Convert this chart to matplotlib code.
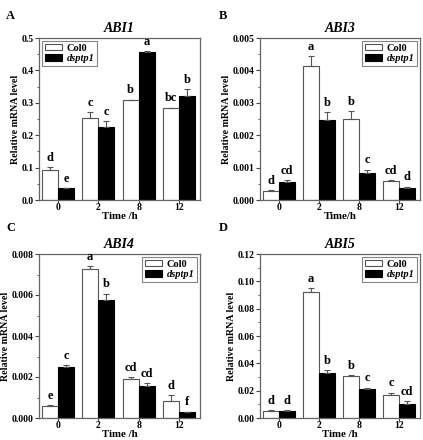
import numpy as np
import matplotlib.pyplot as plt

plt.rcParams['font.family'] = 'Liberation Serif'
plt.rcParams['font.weight'] = 'bold'

times = ['0', '2', '8', '12']

# ABI1
abi1_col = [0.093, 0.253, 0.308, 0.283]
abi1_col_err = [0.008, 0.018, 0.002, 0.002]
abi1_mut = [0.036, 0.226, 0.457, 0.321]
abi1_mut_err = [0.001, 0.018, 0.002, 0.021]
abi1_col_let = ['d', 'c', 'b', 'bc']
abi1_mut_let = ['e', 'c', 'a', 'b']

# ABI3
abi3_col = [0.00029, 0.00415, 0.00249, 0.00059]
abi3_col_err = [0.00001, 0.00030, 0.00025, 0.00002]
abi3_mut = [0.00057, 0.00247, 0.00082, 0.00036]
abi3_mut_err = [0.00004, 0.00025, 0.00012, 0.00005]
abi3_col_let = ['d', 'a', 'b', 'cd']
abi3_mut_let = ['cd', 'b', 'c', 'd']

# ABI4
abi4_col = [0.0006, 0.00727, 0.0019, 0.00085]
abi4_col_err = [0.00001, 0.00015, 0.0001, 0.00028]
abi4_mut = [0.0025, 0.00577, 0.00155, 0.0003]
abi4_mut_err = [0.00007, 0.0003, 0.00015, 0.00001]
abi4_col_let = ['e', 'a', 'cd', 'd']
abi4_mut_let = ['c', 'b', 'cd', 'f']

# ABI5
abi5_col = [0.005, 0.0925, 0.0307, 0.0165]
abi5_col_err = [0.001, 0.0025, 0.0008, 0.002]
abi5_mut = [0.0053, 0.033, 0.0215, 0.0105]
abi5_mut_err = [0.0005, 0.002, 0.0008, 0.002]
abi5_col_let = ['d', 'a', 'b', 'c']
abi5_mut_let = ['d', 'b', 'c', 'cd']

W, H = 423, 440
fig = plt.figure(figsize=(W / 100, H / 100), dpi=100)

def make_ax(l, t, r, b):
    return fig.add_axes([l / W, 1 - b / H, (r - l) / W, (b - t) / H])

panels = [
    ('A', 'ABI1', make_ax(39, 38, 200, 200), abi1_col, abi1_col_err, abi1_mut, abi1_mut_err,
     abi1_col_let, abi1_mut_let, 0.5, 0.1, '%.1f', 'upper left', 'Time /h', (6, 16)),
    ('B', 'ABI3', make_ax(260, 38, 420, 200), abi3_col, abi3_col_err, abi3_mut, abi3_mut_err,
     abi3_col_let, abi3_mut_let, 0.005, 0.001, '%.3f', 'upper right', 'Time/h', (219, 16)),
    ('C', 'ABI4', make_ax(39, 254, 200, 418), abi4_col, abi4_col_err, abi4_mut, abi4_mut_err,
     abi4_col_let, abi4_mut_let, 0.008, 0.002, '%.3f', 'upper right', 'Time /h', (6, 228)),
    ('D', 'ABI5', make_ax(260, 254, 420, 418), abi5_col, abi5_col_err, abi5_mut, abi5_mut_err,
     abi5_col_let, abi5_mut_let, 0.12, 0.02, '%.2f', 'upper right', 'Time /h', (219, 228)),
]

x = np.arange(len(times))
bw = 0.4
for (lab, gene, ax, col, cole, mut, mute, colL, mutL, ymax, step, fmt, loc, xl, pos) in panels:
    ax.bar(x - bw / 2, col, bw, color='white', edgecolor='#555555', linewidth=0.8, label='Col0',
           yerr=[np.zeros(4), cole], error_kw=dict(ecolor='#555555', elinewidth=0.8, capsize=2, capthick=0.8))
    ax.bar(x + bw / 2, mut, bw, color='black', edgecolor='black', linewidth=0.8, label='dsptp1',
           yerr=[np.zeros(4), mute], error_kw=dict(ecolor='#555555', elinewidth=0.8, capsize=2, capthick=0.8))
    off = ymax * 0.02
    for i in range(4):
        ax.text(x[i] - bw / 2, col[i] + cole[i] + off, colL[i], ha='center', va='bottom',
                fontsize=9, fontweight='bold')
        ax.text(x[i] + bw / 2, mut[i] + mute[i] + off, mutL[i], ha='center', va='bottom',
                fontsize=9, fontweight='bold')
    ax.set_xlim(-0.47, 3.52)
    ax.set_ylim(0, ymax)
    ax.set_yticks(np.arange(0, ymax + step / 2, step))
    ax.set_yticks(np.arange(step / 2, ymax, step), minor=True)
    ax.yaxis.set_major_formatter(plt.FormatStrFormatter(fmt))
    ax.set_xticks(x)
    ax.set_xticklabels(times)
    ax.tick_params(axis='y', labelsize=7, length=3, width=0.8, pad=1, colors='#444444',
                   labelcolor='black')
    ax.tick_params(axis='x', labelsize=7, length=2, width=0.8, pad=0.5, colors='#444444',
                   labelcolor='black')
    ax.tick_params(axis='y', which='minor', length=1.5, width=0.6, colors='#444444')
    for s in ax.spines.values():
        s.set_color('#666666')
        s.set_linewidth(0.9)
    ax.set_title(gene, fontsize=10, fontweight='bold', style='italic', pad=4)
    ax.set_xlabel(xl, fontsize=7.8, fontweight='bold', labelpad=0)
    ax.set_ylabel('Relative mRNA level', fontsize=7.2, fontweight='bold', labelpad=1)
    leg = ax.legend(loc=loc, fontsize=7.5, frameon=True, fancybox=False, edgecolor='#666666',
                    handlelength=1.7, handleheight=0.6, borderpad=0.25, labelspacing=0.15,
                    handletextpad=0.4, borderaxespad=0.3)
    leg.get_frame().set_linewidth(0.8)
    leg.get_texts()[1].set_style('italic')
    fig.text(pos[0] / W, 1 - pos[1] / H, lab, fontsize=9, fontweight='bold', va='center', ha='left')

fig.savefig('out.png', dpi=100)
